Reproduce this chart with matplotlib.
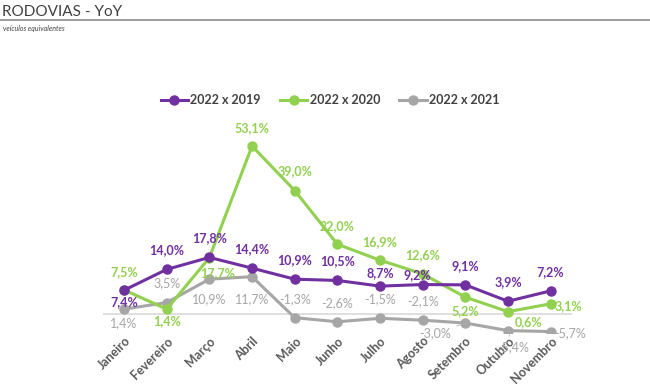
import matplotlib
matplotlib.use("Agg")
import matplotlib.pyplot as plt
from matplotlib.lines import Line2D

plt.rcParams['font.family'] = ['Lato', 'DejaVu Sans']

# ---------------------------------------------------------------------------
# Data
# ---------------------------------------------------------------------------
months = ["Janeiro", "Fevereiro", "Março", "Abril", "Maio", "Junho",
          "Julho", "Agosto", "Setembro", "Outubro", "Novembro"]
yoy_2019 = [7.4, 14.0, 17.8, 14.4, 10.9, 10.5, 8.7, 9.2, 9.1, 3.9, 7.2]
yoy_2020 = [7.5, 1.4, 17.7, 53.1, 39.0, 22.0, 16.9, 12.6, 5.2, 0.6, 3.1]
yoy_2021 = [1.4, 3.5, 10.9, 11.7, -1.3, -2.6, -1.5, -2.1, -3.0, -5.4, -5.7]
series_names = ["2022 x 2019", "2022 x 2020", "2022 x 2021"]

PURPLE = "#7030A0"
GREEN = "#92D050"
GRAY = "#A6A6A6"
TXT = "#404040"

# label offsets in pixels (dx, dy, ha)
off_2019 = [(0, -12, "center")] + [(0, 19, "center")] * 5 + \
           [(0, 13, "center"), (-5, 9, "center"), (0, 19, "center"),
            (0, 19, "center"), (0, 19, "center")]
off_2020 = [(0, 18, "center"), (0, -12, "center"), (8, -15, "center"),
            (0, 18, "center"), (0, 19, "center"), (0, 18, "center"),
            (0, 18, "center"), (0, 19, "center"), (0, -14, "center"),
            (21, -10, "center"), (4, -2, "left")]
off_2021 = [(0, -14, "center"), (0, 19, "center"), (0, -20, "center"),
            (0, -22, "center"), (0, 19, "center"), (0, 19, "center"),
            (0, 19, "center"), (0, 19, "center"), (-30, -10, "center"),
            (5, -17, "center"), (4, -2, "left")]

fig = plt.figure(figsize=(6.5, 3.9), dpi=100, facecolor="white")
ax = fig.add_axes([0.158, 0.145, 0.722, 0.504])

x = list(range(len(months)))
ax.axhline(0, color="#D9D9D9", lw=1.2, zorder=1)

for vals, col, name, offs, bold in [
    (yoy_2021, GRAY, series_names[2], off_2021, False),
    (yoy_2020, GREEN, series_names[1], off_2020, True),
    (yoy_2019, PURPLE, series_names[0], off_2019, True),
]:
    ax.plot(x, vals, color=col, lw=2.2, marker="o", ms=6.5, zorder=3,
            label=name)
    for i, v in enumerate(vals):
        dx, dy, ha = offs[i]
        lbl = f"{v:.1f}%".replace(".", ",")
        arrow = None
        if col == GRAY and i in (8, 9):
            arrow = dict(arrowstyle="-", color="#BFBFBF", lw=0.7,
                         shrinkA=2, shrinkB=3)
        ax.annotate(lbl, (i, v), xytext=(dx, dy), textcoords="offset pixels",
                    ha=ha, va="center", fontsize=9, color=col,
                    fontweight="bold" if bold else "normal",
                    arrowprops=arrow, zorder=4)

ax.set_xlim(-0.5, 10.5)
ax.set_ylim(-6.3, 56)
for sp in ax.spines.values():
    sp.set_visible(False)
ax.set_yticks([])
ax.set_xticks(x)
ax.set_xticklabels(months, rotation=45, ha="right", rotation_mode="anchor",
                   fontsize=9, fontweight="bold", color="#595959")
ax.tick_params(axis="x", length=0, pad=1)

# legend with series order 2019, 2020, 2021
handles, labels = ax.get_legend_handles_labels()
order = [labels.index(n) for n in series_names]
fig.legend([handles[i] for i in order], [labels[i] for i in order],
           loc="center", bbox_to_anchor=(330 / 650, 1 - 100 / 390),
           ncol=3, frameon=False, handlelength=2.2,
           columnspacing=1.5, handletextpad=0.2,
           prop={"weight": "bold", "size": 9})
for t in fig.legends[0].get_texts():
    t.set_color(TXT)

# title block
fig.text(2 / 650, 1 - 12 / 390, "RODOVIAS - YoY", fontsize=11, color=TXT,
         ha="left", va="center")
fig.add_artist(Line2D([0, 1], [1 - 20 / 390, 1 - 20 / 390], color="#8C8C8C",
                      lw=1.2, transform=fig.transFigure))
fig.text(3 / 650, 1 - 29 / 390, "veículos equivalentes", fontsize=5,
         color=TXT, style="italic", ha="left", va="center")

fig.savefig("out.png", dpi=100, facecolor="white")
plt.close(fig)
